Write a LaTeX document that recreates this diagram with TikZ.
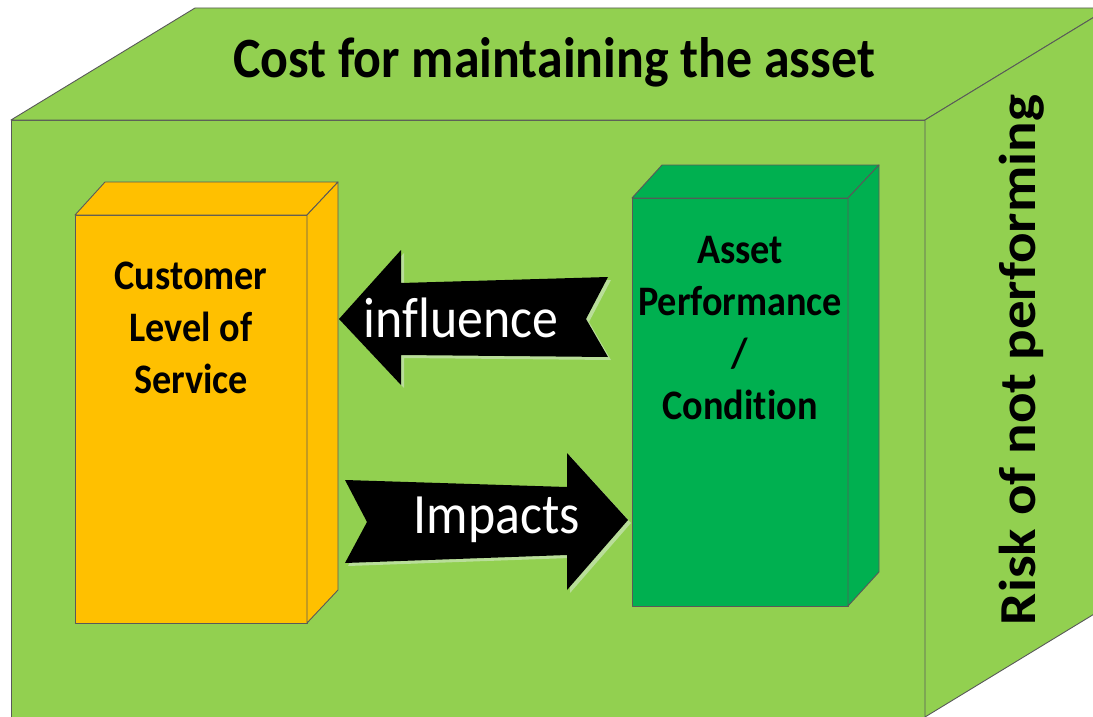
\documentclass[tikz,border=0pt]{standalone}
\usepackage{fontspec}
\setmainfont[Ligatures=NoCommon]{Carlito}
\definecolor{cubegreen}{HTML}{92D050}
\definecolor{boxyellow}{HTML}{FFC000}
\definecolor{boxgreen}{HTML}{00B050}
\definecolor{edgegray}{HTML}{595959}
\definecolor{shadowgreen}{HTML}{B9DE99}

\begin{document}
\begin{tikzpicture}[x=1pt,y=-1pt,
		face/.style={draw=edgegray,line width=0.9pt,line join=round},
		arrowbody/.style={fill=black},
		arrowshadow/.style={fill=shadowgreen},
		narrow/.style={xscale=0.91},
		boxlabel/.style={narrow,align=center,font=\fontsize{42}{52}\selectfont\bfseries},
		arrowlabel/.style={narrow,text=white,font=\fontsize{57}{60}\selectfont},
		sidelabel/.style={font=\fontsize{57}{60}\selectfont\bfseries}]
				\useasboundingbox (0,0) rectangle (1093,717);
				\clip (0,0) rectangle (1093,717);

				% big cube
				\draw[face,fill=cubegreen] (11,120) rectangle (925,740);
				\draw[face,fill=cubegreen] (11,120) -- (195,8) -- (1109,8) -- (925,120) -- cycle;
				\draw[face,fill=cubegreen] (925,120) -- (1109,8) -- (1109,605) -- (925,717) -- (925,740) -- cycle;

				% yellow box
				\draw[face,fill=boxyellow] (75,215) rectangle (307,623);
				\draw[face,fill=boxyellow] (75,215) -- (105,182) -- (338,182) -- (307,215) -- cycle;
				\draw[face,fill=boxyellow] (307,215) -- (338,182) -- (338,590) -- (307,623) -- cycle;

				% green box
				\draw[face,fill=boxgreen] (632,198) rectangle (848,606);
				\draw[face,fill=boxgreen] (632,198) -- (662,165) -- (879,165) -- (848,198) -- cycle;
				\draw[face,fill=boxgreen] (848,198) -- (879,165) -- (879,572) -- (848,606) -- cycle;

				% block arrows
				\begin{scope}[shift={(3,3)}]
					\fill[arrowshadow] (339,319) -- (401,250) -- (401,283) -- (608,277) -- (586,319) -- (608,357) -- (401,355) -- (401,385) -- cycle;
					\fill[arrowshadow] (628,520) -- (567,453) -- (567,487) -- (345,480) -- (367,522) -- (345,563) -- (567,555) -- (567,590) -- cycle;
				\end{scope}
				\fill[arrowbody] (339,319) -- (401,250) -- (401,283) -- (608,277) -- (586,319) -- (608,357) -- (401,355) -- (401,385) -- cycle;
				\fill[arrowbody] (628,520) -- (567,453) -- (567,487) -- (345,480) -- (367,522) -- (345,563) -- (567,555) -- (567,590) -- cycle;

				\node[sidelabel,narrow] (cost) at (554,62) {Cost for maintaining the asset};
				\node[sidelabel,narrow,rotate=90] (risk) at (1022,360) {Risk of not performing};
				\node[boxlabel] (service) at (191,328) {Customer\\Level of\\Service};
				\node[boxlabel] (condition) at (740,328) {Asset\\Performance\\/\\Condition};
				\node[arrowlabel] (influence) at (461,318) {influence};
				\node[arrowlabel] (impacts) at (497,520) {Impacts};
			\end{tikzpicture}
\end{document}
